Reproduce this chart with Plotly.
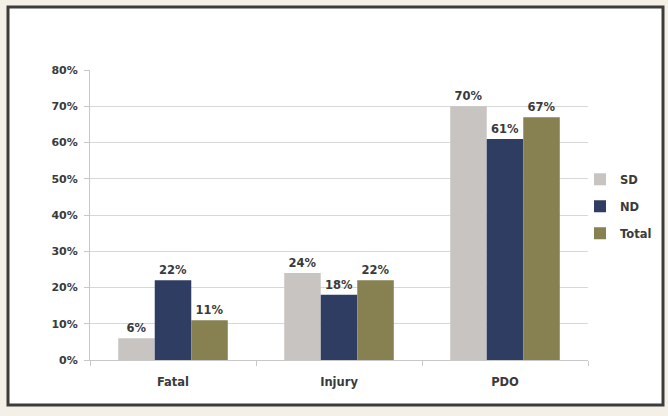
import plotly.graph_objects as go

# Crash severity shares by road group
categories = ["Fatal", "Injury", "PDO"]
sd_values = [6, 24, 70]
nd_values = [22, 18, 61]
total_values = [11, 22, 67]
y_ticks = [0, 10, 20, 30, 40, 50, 60, 70, 80]
y_tick_labels = [f"{v}%" for v in y_ticks]

series = [
    ("SD", sd_values, "#c8c4c2"),
    ("ND", nd_values, "#2f3d63"),
    ("Total", total_values, "#878050"),
]

W, H = 668, 416
ML, MR, MT, MB = 90, 80, 70, 56
PW, PH = W - ML - MR, H - MT - MB
TEXT = "#3a3a3a"
FONT = "DejaVu Sans, sans-serif"

fig = go.Figure()
for name, vals, color in series:
    fig.add_trace(go.Bar(
        name=name,
        x=categories,
        y=vals,
        marker=dict(color=color, line=dict(width=0)),
        text=[f"{v}%" for v in vals],
        textposition="outside",
        textfont=dict(family=FONT, size=11.5, color=TEXT, weight="bold"),
        cliponaxis=False,
        legendgroup=name,
    ))

def px_x(x):
    return (x - ML) / PW

def px_y(y):
    return (H - MB - y) / PH

# white chart panel with dark frame
fig.add_shape(
    type="rect", xref="paper", yref="paper", layer="below",
    x0=px_x(8), x1=px_x(663), y0=px_y(405), y1=px_y(7),
    fillcolor="white", line=dict(color="#3c3c3c", width=3),
)

fig.update_layout(
    width=W, height=H,
    margin=dict(l=ML, r=MR, t=MT, b=MB, autoexpand=False),
    paper_bgcolor="#f4f0e7",
    plot_bgcolor="rgba(0,0,0,0)",
    barmode="group",
    bargap=0.34,
    bargroupgap=0,
    font=dict(family=FONT, size=11, color=TEXT),
    legend=dict(
        x=px_x(580), y=0.53, xanchor="left", yanchor="middle",
        font=dict(family=FONT, size=11.5, color=TEXT, weight="bold"),
        traceorder="grouped", tracegroupgap=8,
        itemwidth=30, bgcolor="rgba(0,0,0,0)",
    ),
    showlegend=True,
)
fig.update_xaxes(
    showline=True, linecolor="#c8c8c8", linewidth=1,
    tickson="boundaries", ticks="outside", ticklen=5, tickcolor="#c8c8c8",
    showgrid=False, ticklabelstandoff=11,
    tickfont=dict(family=FONT, size=11.5, color=TEXT, weight="bold"),
)
fig.update_yaxes(
    range=[0, 80], tickvals=y_ticks, ticktext=y_tick_labels,
    showline=True, linecolor="#c8c8c8", linewidth=1,
    ticks="outside", ticklen=5, tickcolor="#c8c8c8",
    showgrid=True, gridcolor="#d8d8d8", gridwidth=1,
    zeroline=False, ticklabelstandoff=4,
    tickfont=dict(family=FONT, size=11, color=TEXT, weight="bold"),
)

fig.write_html("out.html")
